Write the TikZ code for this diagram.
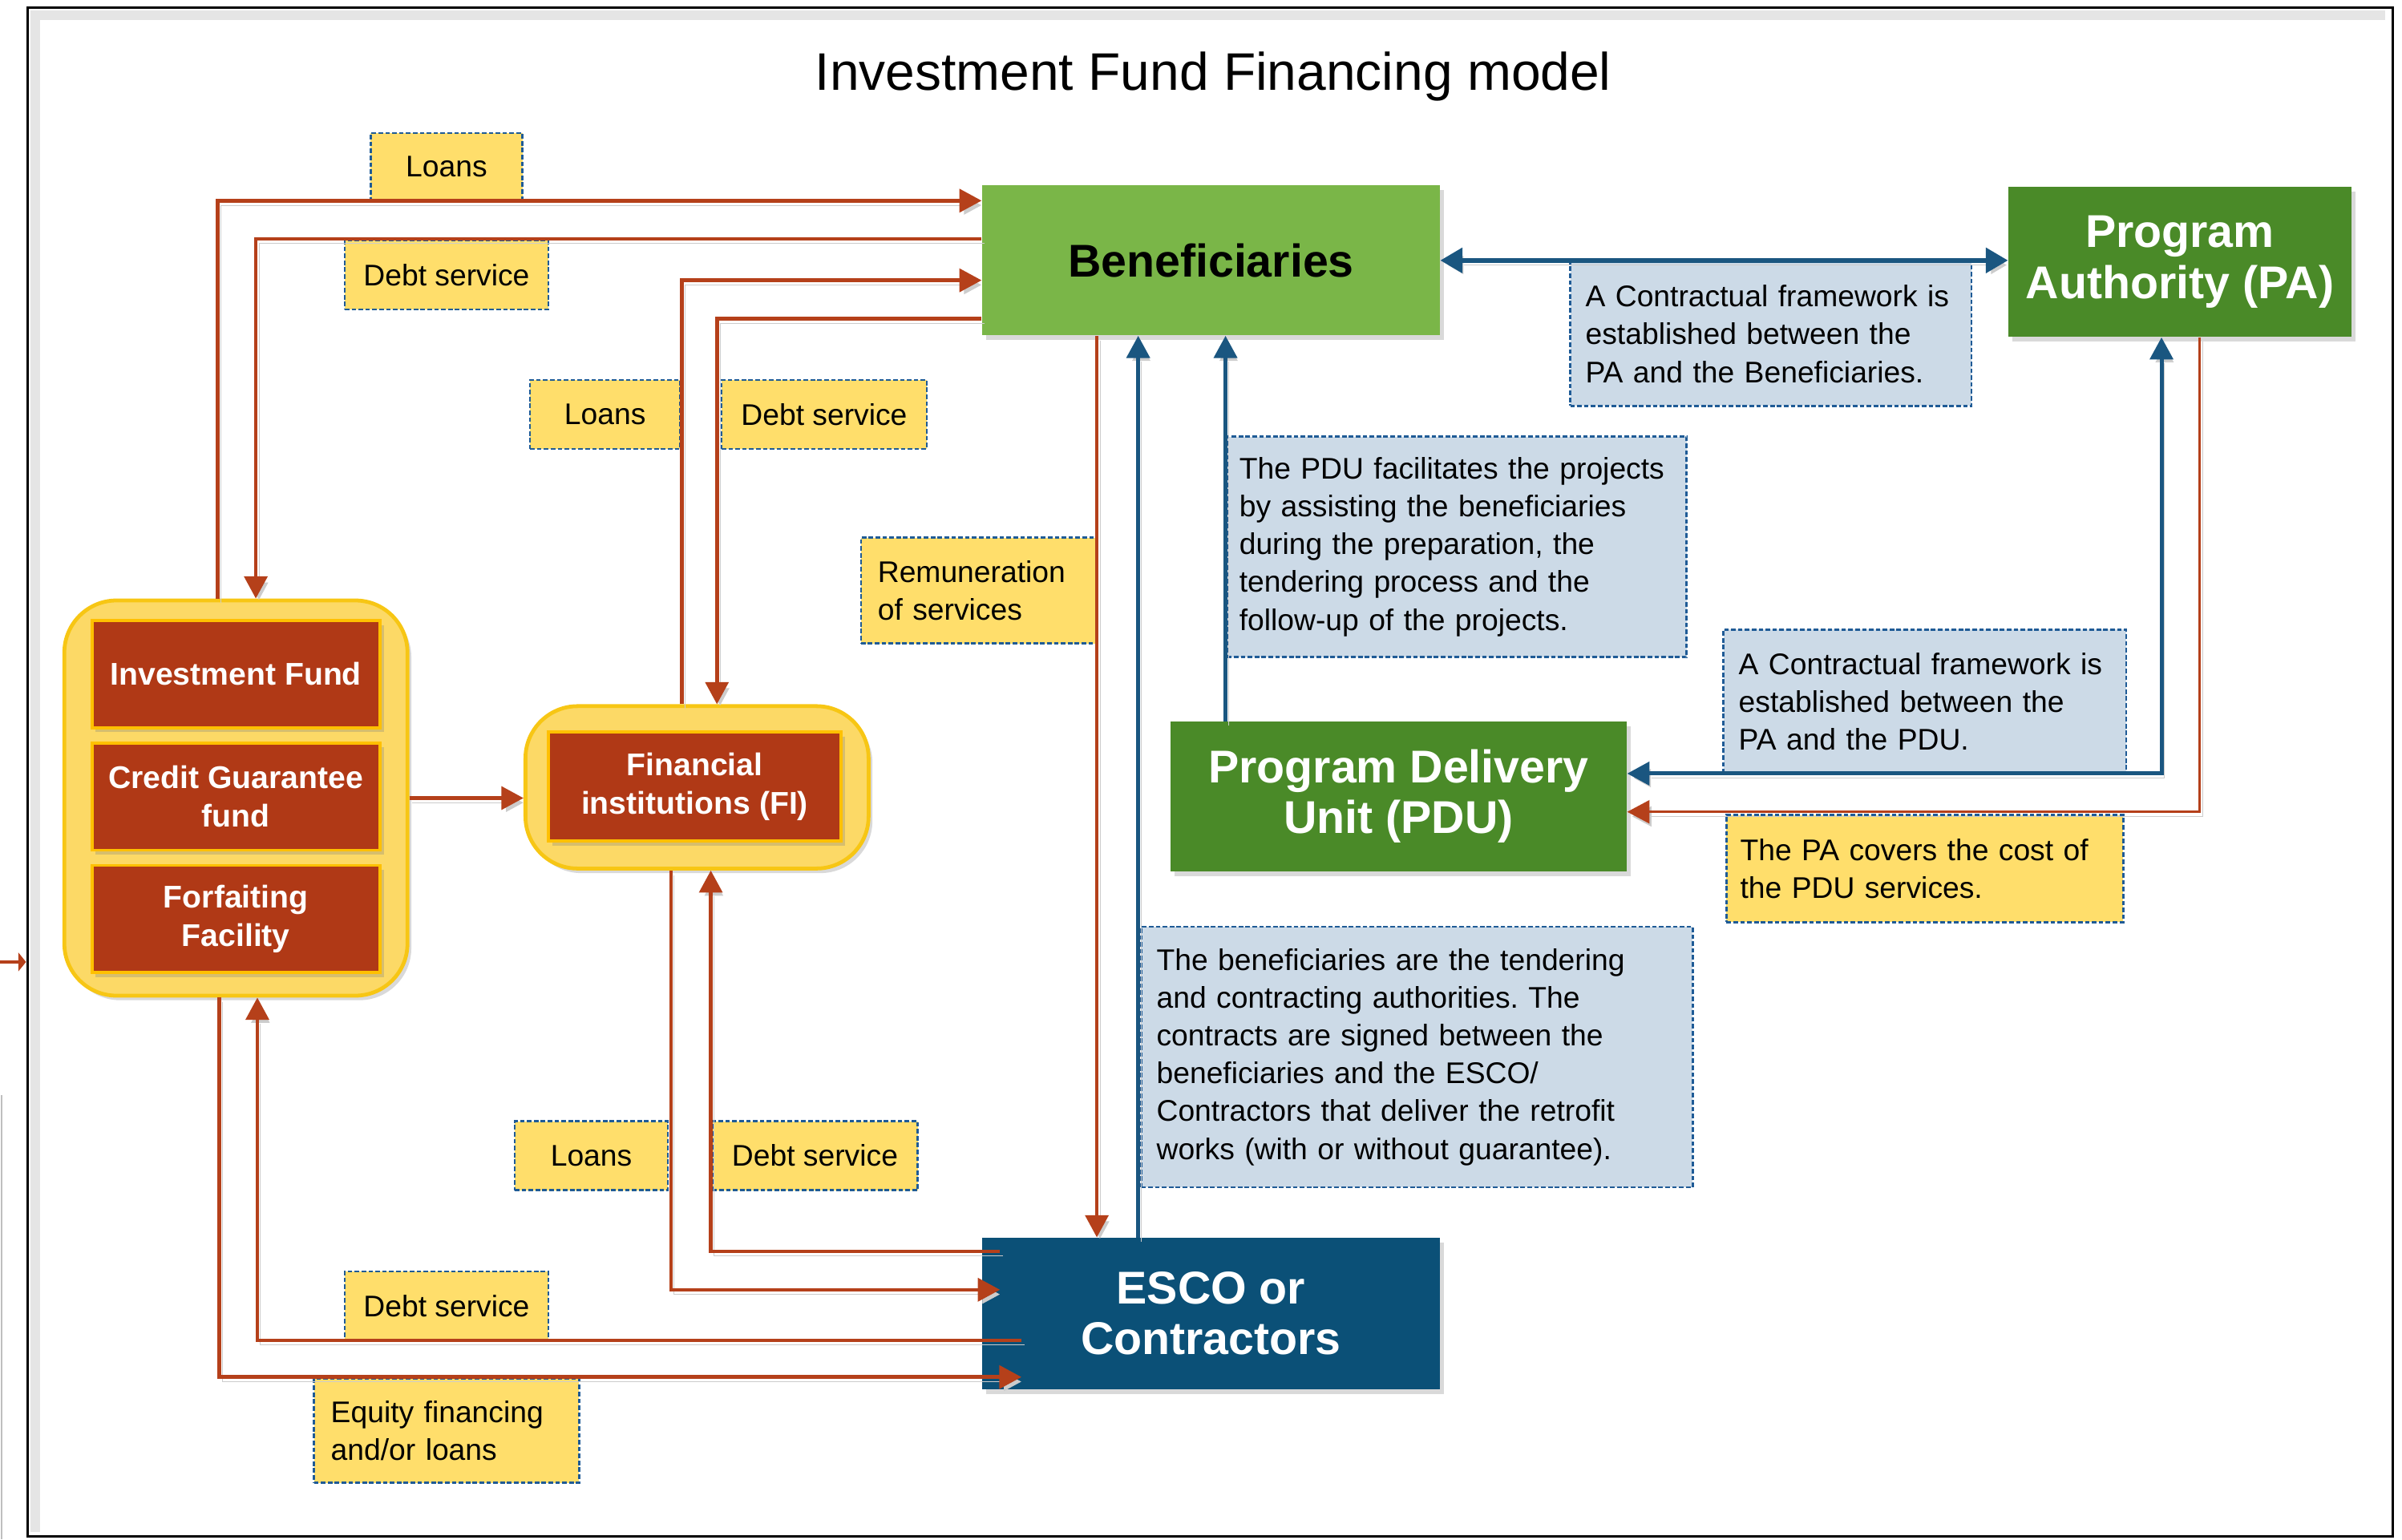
\documentclass[tikz,border=0pt]{standalone}
\usepackage{fontspec}
\setmainfont{Liberation Sans}
\usetikzlibrary{shadows,arrows.meta,calc}
\definecolor{redln}{RGB}{181,64,26}
\definecolor{redbox}{RGB}{176,57,22}
\definecolor{goldb}{RGB}{255,192,0}
\definecolor{contY}{RGB}{252,217,102}
\definecolor{contB}{RGB}{247,198,20}
\definecolor{labY}{RGB}{255,222,107}
\definecolor{labB}{RGB}{31,91,150}
\definecolor{labBl}{RGB}{204,218,231}
\definecolor{blueln}{RGB}{26,86,128}
\definecolor{lgreen}{RGB}{122,182,72}
\definecolor{dgreen}{RGB}{74,138,40}
\definecolor{escoblue}{RGB}{11,80,119}
\newcommand\ttlfnt{\fontsize{34.5}{40}\selectfont}
\newcommand\bigfnt{\fontsize{30}{33}\selectfont\bfseries}
\newcommand\redfnt{\fontsize{20.5}{25}\selectfont\bfseries}
\newcommand\labfnt{\fontsize{19.5}{24.7}\selectfont}
\frenchspacing
\begin{document}
\begin{tikzpicture}[x=1pt,y=-1pt,
  shd/.style={drop shadow={shadow xshift=2.5pt,shadow yshift=-3pt,opacity=0.3}},
  bigbox/.style={shd,inner sep=0pt,minimum width=299pt,minimum height=98pt,align=center,font=\bigfnt,text=white},
  redb/.style={shd,fill=redbox,draw=goldb,line width=2pt,minimum width=188pt,minimum height=70pt,inner sep=0pt,align=center,font=\redfnt,text=white},
  cont/.style={shd,fill=contY,draw=contB,line width=2.5pt,rounded corners=34pt,inner sep=0pt},
  ylab/.style={fill=labY,draw=labB,line width=1.3pt,dash pattern=on 3pt off 1.5pt,font=\labfnt,inner sep=0pt},
  blab/.style={ylab,fill=labBl},
  lshd/.style={preaction={draw=black!20,transform canvas={shift={(2pt,-3pt)}}}},
  rarr/.style={lshd,draw=redln,line width=2.4pt,-{Triangle[length=14.5pt,width=15pt]}},
  barr/.style={lshd,draw=blueln,line width=2.6pt,-{Triangle[length=14.5pt,width=15pt]}}
]
\useasboundingbox (0,0) rectangle (1568,1005);
% frame
\draw[black!10,line width=6pt] (23,1000) -- (23,10) -- (1557,10);
\draw[line width=1.8pt] (18,5) rectangle (1562,1003);
\draw[black!25,line width=1pt] (1,715) -- (1,1005);
\draw[redln,line width=2.5pt,-{Triangle[length=5pt,width=12pt]}] (0,628) -- (17,628);
% title
\node (title) at (792,50) {\ttlfnt Investment Fund Financing model};
% main boxes
\node[bigbox,fill=lgreen,text=black] (ben) at (790.5,170) {Beneficiaries};
\node[bigbox,fill=dgreen,minimum width=224pt] (pa) at (1423,171) {Program\\Authority (PA)};
\node[bigbox,fill=dgreen,minimum width=298pt] (pdu) at (913,520) {Program Delivery\\Unit (PDU)};
\node[bigbox,fill=escoblue,minimum height=99pt] (esco) at (790.5,857.5) {ESCO or\\Contractors};
% left group
\node[cont,minimum width=224pt,minimum height=258pt] (grp) at (154,521) {};
\node[redb] (inv) at (154,440) {Investment Fund};
\node[redb] (cgf) at (154,520) {Credit Guarantee\\fund};
\node[redb] (ffac) at (154,600) {Forfaiting\\Facility};
% FI group
\node[cont,minimum width=224pt,minimum height=106pt] (fig) at (455,514) {};
\node[redb,minimum width=191pt,minimum height=71pt] (fi) at (453.5,513.5) {Financial\\institutions (FI)};
% yellow labels
\node[ylab,minimum width=99pt,minimum height=44pt] (l1) at (291.5,109) {Loans};
\node[ylab,minimum width=133pt,minimum height=45pt] (l2) at (291.5,179.5) {Debt service};
\node[ylab,minimum width=98pt,minimum height=45pt] (l3) at (395,270.5) {Loans};
\node[ylab,minimum width=134pt,minimum height=45pt] (l4) at (538,270.5) {Debt service};
\node[ylab,minimum height=69pt,text width=132pt,inner xsep=11pt,align=left] (l5) at (639,385.5) {Remuneration\\of services};
\node[ylab,minimum width=100pt,minimum height=45pt] (l6) at (386,754.5) {Loans};
\node[ylab,minimum width=134pt,minimum height=45pt] (l7) at (532,754.5) {Debt service};
\node[ylab,minimum width=133pt,minimum height=45pt] (l8) at (291.5,852.5) {Debt service};
\node[ylab,minimum height=68pt,text width=151pt,inner xsep=11pt,align=left] (l9) at (291.5,934) {Equity financing\\and/or loans};
\node[ylab,minimum height=70pt,text width=241pt,inner xsep=9pt,align=left] (y1) at (1256.5,567) {The PA covers the cost of\\the PDU services.};
% blue labels
\node[blab,minimum height=94pt,text width=242pt,inner xsep=10pt,align=left] (b1) at (1156,218) {A Contractual framework is\\established between the\\PA and the Beneficiaries.};
\node[blab,minimum height=144pt,text width=284pt,inner xsep=8pt,align=left] (b2) at (951,357) {The PDU facilitates the projects\\by assisting the beneficiaries\\during the preparation, the\\tendering process and the\\follow-up of the projects.};
\node[blab,minimum height=94pt,text width=243pt,inner xsep=10pt,align=left] (b3) at (1256.5,458) {A Contractual framework is\\established between the\\PA and the PDU.};
\node[blab,minimum height=170pt,text width=340pt,inner xsep=10pt,align=left] (b4) at (925,690) {The beneficiaries are the tendering\\and contracting authorities. The\\contracts are signed between the\\beneficiaries and the ESCO/\\Contractors that deliver the retrofit\\works (with or without guarantee).};
% connectors
\draw[rarr] ([xshift=-12pt]grp.north) |- ([yshift=39pt]ben.west);
\draw[rarr] ([yshift=14pt]ben.west) -| ([xshift=13pt]grp.north);
\draw[rarr] ([xshift=-10pt]fig.north) |- ([yshift=-13pt]ben.west);
\draw[rarr] ([yshift=-38pt]ben.west) -| ([xshift=13pt]fig.north);
\draw[rarr] ([xshift=-74.5pt]ben.south) -- ([xshift=-74.5pt]esco.north);
\draw[barr] ([xshift=-47.5pt]esco.north) -- ([xshift=-47.5pt]ben.south);
\draw[barr] ([xshift=-113pt]pdu.north) -- ([xshift=-113pt]pdu.north |- ben.south);
\draw[barr,line width=3.2pt,{Triangle[length=14.5pt,width=16pt]}-{Triangle[length=14.5pt,width=16pt]}] (ben.east) -- (ben.east -| pa.west);
\draw[barr,{Triangle[length=14.5pt,width=15pt]}-{Triangle[length=14.5pt,width=15pt]}] ([xshift=-12pt]pa.south) |- ([yshift=15pt]pdu.east);
\draw[rarr,line width=1.6pt] ([xshift=13pt]pa.south) |- ([yshift=-10pt]pdu.east);
\draw[rarr] ([xshift=-17pt]fig.south) |- ([xshift=12pt,yshift=15.5pt]esco.west);
\draw[rarr] ([xshift=12pt,yshift=40.5pt]esco.west) -| ([xshift=9pt]fig.south);
\draw[rarr] ([xshift=26pt,yshift=-17.5pt]esco.west) -| ([xshift=14pt]grp.south);
\draw[rarr] ([xshift=-11pt]grp.south) |- ([xshift=26pt,yshift=-41.5pt]esco.west);
\draw[rarr] (grp.east) -- (grp.east -| fig.west);
\end{tikzpicture}
\end{document}
